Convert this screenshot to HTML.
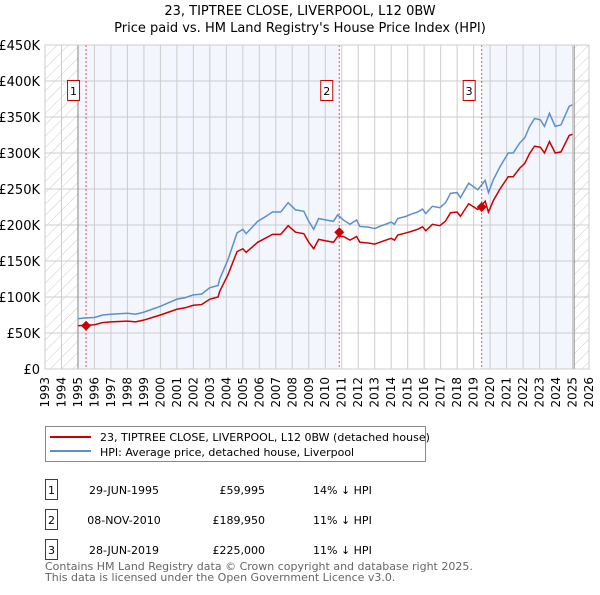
<!DOCTYPE html>
<html><head><meta charset="utf-8"><style>
body{margin:0;background:#fff;font-family:"Liberation Sans","DejaVu Sans",sans-serif;}
svg text{font-family:"DejaVu Sans","Liberation Sans",sans-serif;}
</style></head><body>
<svg id="chart" width="600" height="590" xmlns="http://www.w3.org/2000/svg">
<defs><pattern id="hatch" width="8" height="8" patternUnits="userSpaceOnUse" patternTransform="rotate(45)"><rect width="8" height="8" fill="#fff"/><line x1="0" y1="0" x2="0" y2="8" stroke="#ccc" stroke-width="1"/></pattern></defs>
<text x="300" y="15" text-anchor="middle" font-size="13">23, TIPTREE CLOSE, LIVERPOOL, L12 0BW</text>
<text x="300" y="32" text-anchor="middle" font-size="13">Price paid vs. HM Land Registry's House Price Index (HPI)</text>
<g id="plot"></g>
<g>
<rect x="45.5" y="426.5" width="380" height="35" fill="#fff" stroke="#888"/>
<line x1="50" y1="437" x2="91" y2="437" stroke="#cc0000" stroke-width="2"/>
<text x="100" y="441" font-size="11">23, TIPTREE CLOSE, LIVERPOOL, L12 0BW (detached house)</text>
<line x1="50" y1="451" x2="91" y2="451" stroke="#5b8fd0" stroke-width="2"/>
<text x="100" y="456" font-size="11">HPI: Average price, detached house, Liverpool</text>
</g>
<g id="table" font-size="11"></g>
<text x="45" y="570" font-size="11" fill="#666">Contains HM Land Registry data © Crown copyright and database right 2025.</text>
<text x="45" y="581" font-size="11" fill="#666">This data is licensed under the Open Government Licence v3.0.</text>
</svg>
<script>
const hpiYears=[1995.0,1995.5,1996,1996.5,1997,1998,1998.5,1999,2000,2001,2001.5,2002,2002.5,2003,2003.5,2003.6,2004.1,2004.65,2005,2005.2,2005.9,2006.4,2006.8,2007.3,2007.75,2008.2,2008.7,2009,2009.3,2009.6,2010.05,2010.5,2010.75,2011.1,2011.5,2011.9,2012.1,2012.6,2013,2013.3,2014,2014.2,2014.4,2014.9,2015.2,2015.6,2015.9,2016.1,2016.5,2016.95,2017.3,2017.6,2018,2018.2,2018.7,2019.25,2019.7,2019.9,2020.2,2020.6,2021.1,2021.4,2021.8,2022.1,2022.4,2022.7,2023.05,2023.3,2023.6,2023.95,2024.3,2024.8,2025.0];
const hpiValues=[70,71,71.5,75,76,77.5,76,79,87,97,99,103,104,113,116,125,152,189,194,188,205,212,218,218,231,221,219,205,194,209,207,205,214,207,201,207,198,197,195,198,204,201,209,212,215,218,222,216,226,224,231,244,245,238,258,249,262,245,263,281,300,300,314,321,337,348,346,337,355,337,339,365,367];
const priceValues=[60,61,61.5,64.5,65.5,66.5,65.5,68,75,83,85,88.5,89.5,97,100,108,131,163,167,162,176,182,187,187,199,190,188,176,167,180,178,176,184,184,179,184,176,175,173.5,176,181.5,179,186,189,191,194,197.5,192,201,199,205.5,217,218,212,229.5,221.5,233,218,234,250,267,267,279,285.5,299.5,309.5,308,300,316,300,301.5,324.5,326];
const saleLabels=["1","2","3"];
const saleDates=[1995.49,2010.85,2019.49];
const salePrices=[59995,189950,225000];
const saleDateText=["29-JUN-1995","08-NOV-2010","28-JUN-2019"];
const salePriceText=["£59,995","£189,950","£225,000"];
const saleDiff=["14% ↓ HPI","11% ↓ HPI","11% ↓ HPI"];
const yTicks=[0,50,100,150,200,250,300,350,400,450];
const yTickLabels=["£0","£50K","£100K","£150K","£200K","£250K","£300K","£350K","£400K","£450K"];
const xTicks=[1993,1994,1995,1996,1997,1998,1999,2000,2001,2002,2003,2004,2005,2006,2007,2008,2009,2010,2011,2012,2013,2014,2015,2016,2017,2018,2019,2020,2021,2022,2023,2024,2025,2026];

const NS="http://www.w3.org/2000/svg";
const L=45,R=589,T=45,B=369;
const X=y=>L+(y-1993)*(R-L)/33;
const Y=v=>B-v*(B-T)/450;
const plot=document.getElementById('plot');
function mk(tag,attrs,parent){const e=document.createElementNS(NS,tag);for(const k in attrs)e.setAttribute(k,attrs[k]);(parent||plot).appendChild(e);return e;}
let e;
e=mk('rect',{x:L,y:T,width:R-L,height:B-T,fill:'#fff'});


e=mk('rect',{x:L,y:T,width:X(1995)-L,height:B-T,fill:'url(#hatch)'});


e=mk('rect',{x:X(2025.1),y:T,width:R-X(2025.1),height:B-T,fill:'url(#hatch)'});


e=mk('rect',{x:X(1995),y:T,width:X(saleDates[1])-X(1995),height:B-T,fill:'#f3f6fd'});


e=mk('rect',{x:X(saleDates[2]),y:T,width:X(2025.1)-X(saleDates[2]),height:B-T,fill:'#f3f6fd'});


xTicks.forEach((t,i)=>{
 const g=mk('line',{x1:X(t),x2:X(t),y1:T,y2:B,stroke:'#ccc','stroke-width':1});
 
 
 const tx=mk('text',{x:0,y:0,'font-size':12,'text-anchor':'end',transform:`translate(${X(t)+4},${B+8}) rotate(-90)`});
 tx.textContent=t;
 
 
});
yTicks.forEach((t,i)=>{
 const g=mk('line',{x1:L,x2:R,y1:Y(t),y2:Y(t),stroke:'#ccc','stroke-width':1});
 
 
 const tx=mk('text',{x:L-5,y:Y(t)+5,'font-size':13,'text-anchor':'end'});
 tx.textContent=yTickLabels[i];
 
 
});
e=mk('line',{x1:X(1995),x2:X(1995),y1:T,y2:B,stroke:'#888','stroke-width':1});


e=mk('line',{x1:X(2025.1),x2:X(2025.1),y1:T,y2:B,stroke:'#888','stroke-width':1});


saleDates.forEach((d,i)=>{
 const l=mk('line',{x1:X(d),x2:X(d),y1:T,y2:B,stroke:'#e05050','stroke-width':1,'stroke-dasharray':'2,2'});
 
 
});
e=mk('polyline',{points:hpiYears.map((y,i)=>X(y)+','+Y(hpiValues[i])).join(' '),fill:'none',stroke:'#5b8fd0','stroke-width':1.5});


e=mk('polyline',{points:hpiYears.map((y,i)=>X(y)+','+Y(priceValues[i])).join(' '),fill:'none',stroke:'#cc0000','stroke-width':1.5});


saleDates.forEach((d,i)=>{
 const cx=X(d),cy=Y(salePrices[i]/1000);
 const p=mk('polygon',{points:`${cx},${cy-5} ${cx+5},${cy} ${cx},${cy+5} ${cx-5},${cy}`,fill:'#cc0000'});
 
 
 const b=mk('rect',{x:cx-18.5,y:80.5,width:12,height:20,fill:'#fff',stroke:'#cc0000'});
 
 
 const t=mk('text',{x:cx-12.5,y:95,'font-size':11,'text-anchor':'middle'});
 t.textContent=saleLabels[i];
 
 
});
e=mk('rect',{x:L,y:T,width:R-L,height:B-T,fill:'none',stroke:'#ccc'});


const tb=document.getElementById('table');
saleLabels.forEach((s,i)=>{
 const y=493+i*30;
 const b=mk('rect',{x:45.5,y:y-13.5,width:12,height:20,fill:'#fff',stroke:'#cc0000'},tb);
 
 
 const vals=[[51.5,s,'middle'],[124,saleDateText[i],'middle'],[265,salePriceText[i],'end'],[313,saleDiff[i],'start']];
 vals.forEach(v=>{const t=mk('text',{x:v[0],y:y+1,'text-anchor':v[2]},tb);t.textContent=v[1];
  
  });
});
</script>
</body></html>
